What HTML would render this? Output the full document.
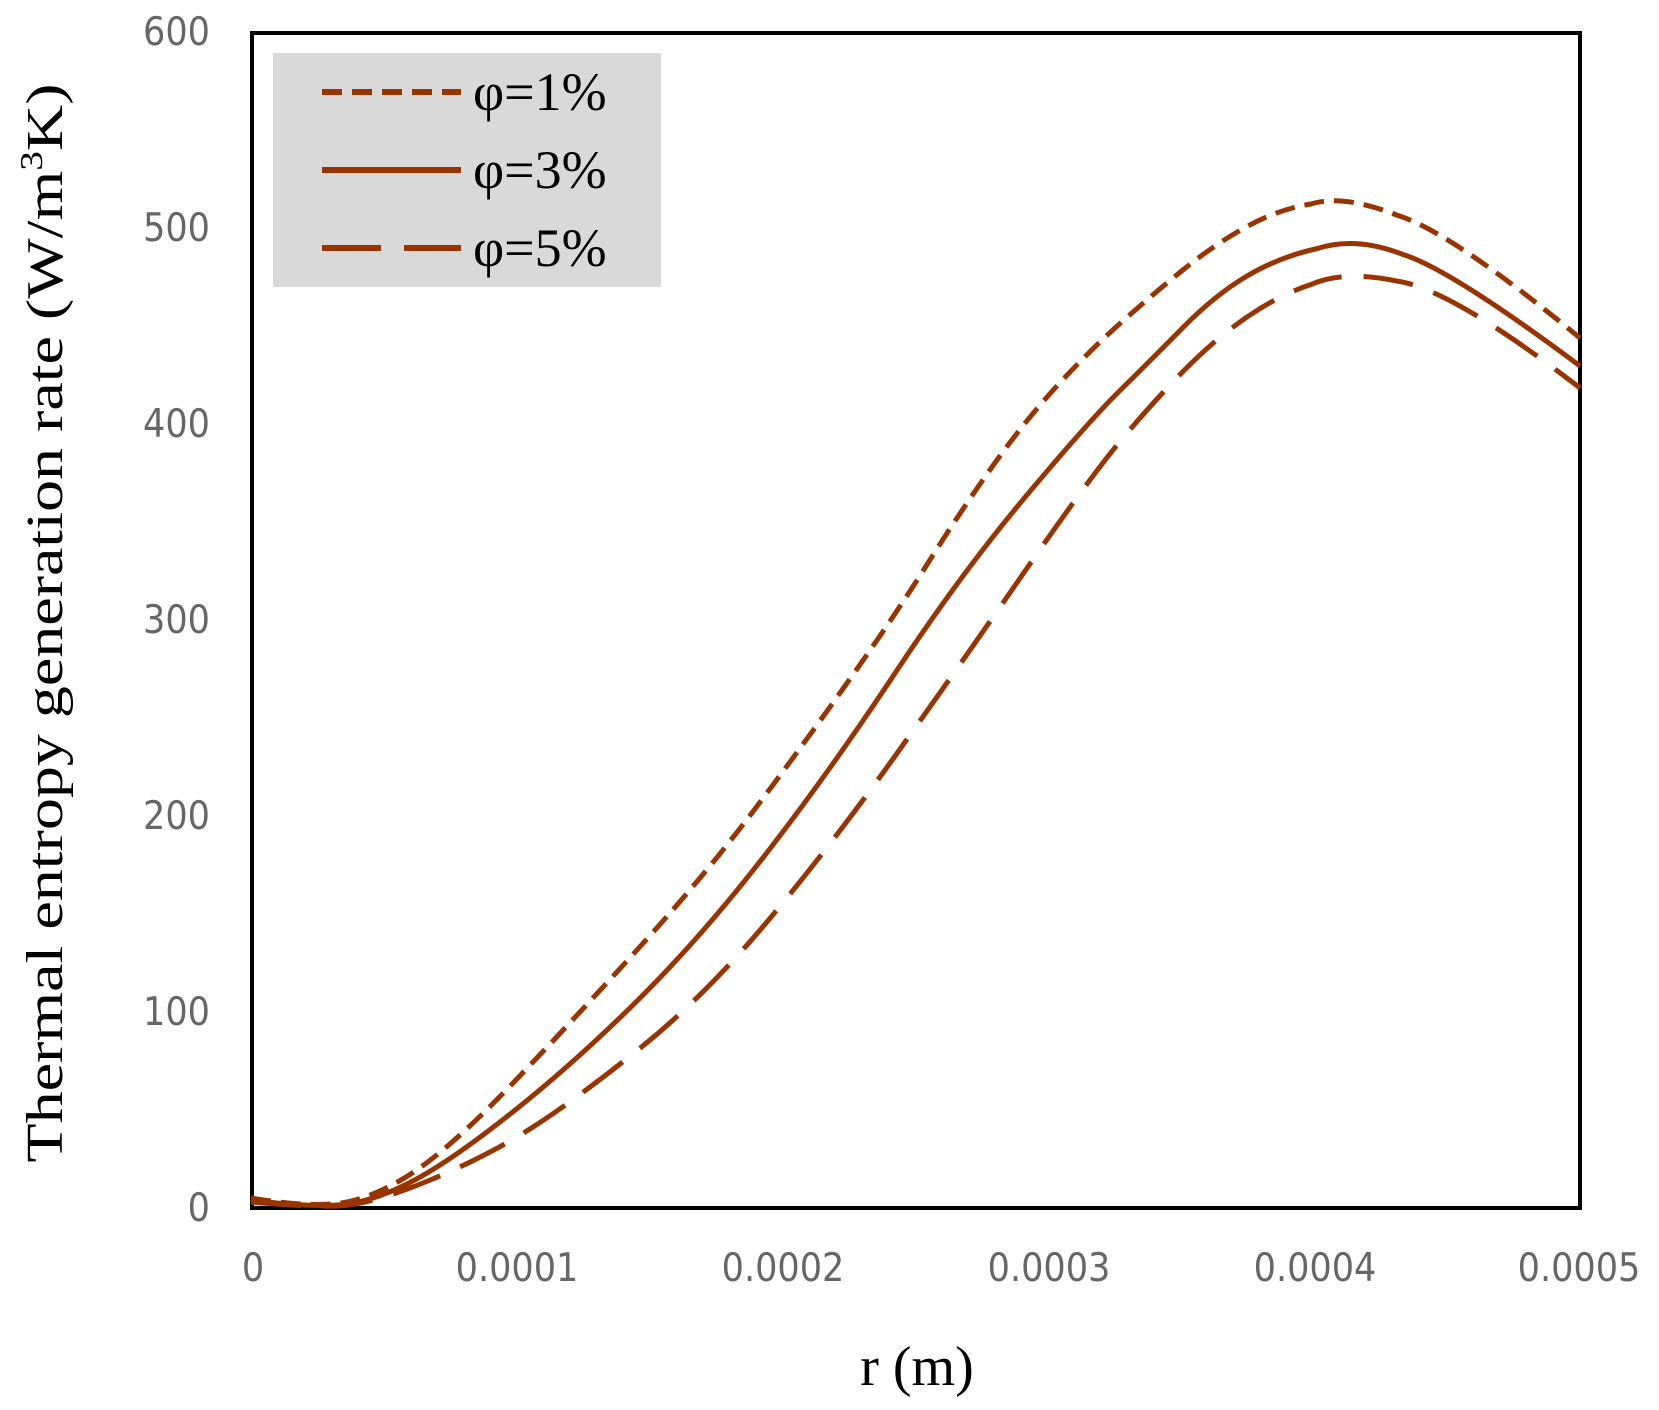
<!DOCTYPE html>
<html><head><meta charset="utf-8"><style>
html,body{margin:0;padding:0;background:#fff;}
svg{display:block;}
</style></head><body>
<svg width="1659" height="1410" xmlns="http://www.w3.org/2000/svg">
<rect width="1659" height="1410" fill="#fff"/>
<g font-family="'DejaVu Sans Condensed','Liberation Sans Narrow','Liberation Sans',sans-serif" font-size="39" fill="#666" text-anchor="end">
<text x="210" y="45">600</text>
<text x="210" y="241">500</text>
<text x="210" y="437">400</text>
<text x="210" y="633">300</text>
<text x="210" y="829">200</text>
<text x="210" y="1025">100</text>
<text x="210" y="1221">0</text>
</g>
<g font-family="'DejaVu Sans Condensed','Liberation Sans Narrow','Liberation Sans',sans-serif" font-size="39" fill="#666" text-anchor="middle">
<text x="253" y="1281">0</text>
<text x="517" y="1281">0.0001</text>
<text x="783" y="1281">0.0002</text>
<text x="1049" y="1281">0.0003</text>
<text x="1315" y="1281">0.0004</text>
<text x="1579" y="1281">0.0005</text>
</g>
<text x="917" y="1385" text-anchor="middle" font-family="'Liberation Serif',serif" font-size="56" fill="#000">r (m)</text>
<text transform="translate(62,623) rotate(-90)" text-anchor="middle" font-family="'Liberation Serif',serif" font-size="52" fill="#000" textLength="1079" lengthAdjust="spacingAndGlyphs">Thermal entropy  generation rate (W/m<tspan font-size="32" dy="-20">3</tspan><tspan dy="20">K)</tspan></text>
<rect x="252" y="33" width="1328" height="1175" fill="none" stroke="#000" stroke-width="4"/>
<rect x="273" y="53" width="388" height="234" fill="#d9d9d9"/>
<g stroke="#993300" stroke-width="6" fill="none">
<line x1="322" y1="92" x2="461" y2="92" stroke-dasharray="20,10"/>
<line x1="322" y1="170" x2="461" y2="170"/>
<line x1="322" y1="248" x2="381" y2="248"/><line x1="404" y1="248" x2="461" y2="248"/>
</g>
<g font-family="'Liberation Serif',serif" font-size="54" fill="#000">
<text x="473" y="110">φ=1%</text>
<text x="473" y="188">φ=3%</text>
<text x="473" y="266">φ=5%</text>
</g>
<g fill="none" stroke="#993300" stroke-width="5">
<path stroke-dasharray="20,10" d="M251,1198 Q304,1207 337,1203.5 Q370,1200 410,1174.5 Q450,1149 514,1082 Q578,1015 641.5,945 Q705,875 753,811.5 Q801,748 848.5,681 Q896,614 928,563 Q960,512 992,467 Q1024,422 1056,387 Q1088,352 1120,323.5 Q1152,295 1183.5,269.5 Q1215,244 1247,226.5 Q1279,209 1311,204 Q1343,194 1396.5,215 Q1450,231 1580,338"/>
<path d="M251,1200 Q304,1207 337,1205 Q370,1203 410,1182.5 Q450,1162 514,1111 Q578,1060 641.5,996.5 Q705,933 769,850 Q833,767 896.5,671 Q960,575 1024,498.5 Q1088,422 1120,390.5 Q1152,359 1183.5,327 Q1215,295 1247,276 Q1279,257 1317.5,248.5 Q1356,236 1403,254.5 Q1450,269 1580,366"/>
<path stroke-dasharray="50,22" d="M251,1202 Q304,1207 337,1206 Q370,1205 429,1180.5 Q488,1156 533,1127 Q578,1098 641.5,1047 Q705,996 769,919.5 Q833,843 896.5,754 Q960,665 1024,572.5 Q1088,480 1120,441.5 Q1152,403 1183.5,371 Q1215,339 1247,317 Q1279,295 1311,284.5 Q1343,270 1396.5,281 Q1450,288 1580,388"/>
</g>
</svg>
</body></html>
